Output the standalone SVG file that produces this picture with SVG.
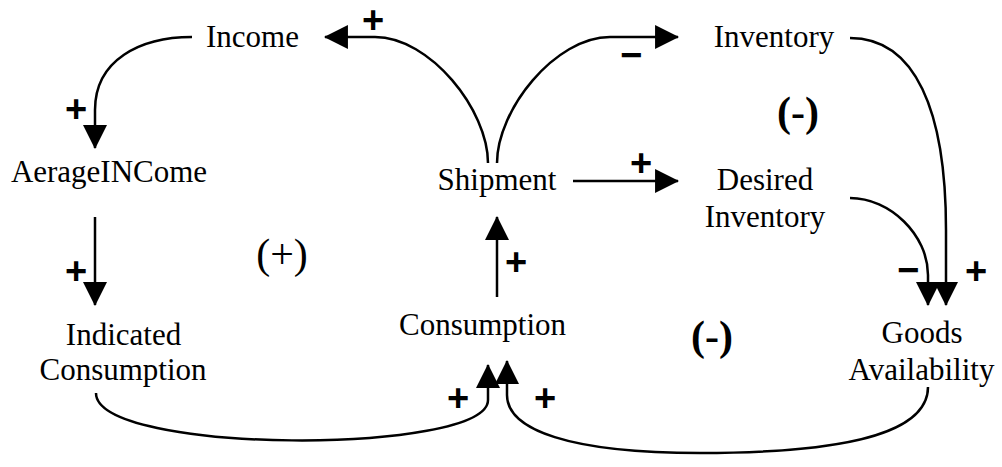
<svg xmlns="http://www.w3.org/2000/svg" width="1002" height="467" viewBox="0 0 1002 467">
<style>
.n{font-family:"Liberation Serif","Times New Roman",serif;font-size:31px;fill:#000;text-anchor:middle}
.s{font-family:"Liberation Sans",Arial,sans-serif;font-weight:bold;font-size:38px;fill:#000;text-anchor:middle}
.lp{font-family:"Liberation Serif","Times New Roman",serif;font-size:42px;fill:#000;text-anchor:middle}
.b{font-weight:bold}
.c{fill:none;stroke:#000;stroke-width:2.5;marker-end:url(#ah)}
</style>
<defs>
<marker id="ah" markerUnits="userSpaceOnUse" markerWidth="24" markerHeight="24" viewBox="0 0 23 23" refX="22" refY="11.5" orient="auto">
<path d="M0,0 L23,11.5 L0,23 Z" fill="#000"/>
</marker>
</defs>
<rect width="1002" height="467" fill="#fff"/>
<g id="connectors">
<path class="c" d="M488 163 C488 110 430 37 375 37 L325 37"/>
<path class="c" d="M497 163 C497 110 555 37 610 37 L678 37"/>
<path class="c" d="M573 181 L678 181"/>
<path class="c" d="M497 297 L497 217"/>
<path class="c" d="M192 37 C140 37 95 60 95 110 L95 148"/>
<path class="c" d="M95 217 L95 305"/>
<path class="c" d="M850 38 C915 38 946 110 946 230 L946 305"/>
<path class="c" d="M850 198 C890 198 928 235 928 275 L928 305"/>
<path class="c" d="M96 393 C96 455 488 455 488 400 L488 365"/>
<path class="c" d="M928 387 C928 440 820 453 700 453 C570 453 507 430 507 395 L507 361"/>
</g>
<g id="polarities">
<text class="s" x="373" y="33">+</text>
<text class="s" x="631" y="68">−</text>
<text class="s" x="641" y="176">+</text>
<text class="s" x="516" y="275">+</text>
<text class="s" x="76" y="122">+</text>
<text class="s" x="76" y="284">+</text>
<text class="s" x="908" y="283">−</text>
<text class="s" x="976" y="284">+</text>
<text class="s" x="458" y="411">+</text>
<text class="s" x="545" y="411">+</text>
</g>
<g id="loops">
<text class="lp b" x="798" y="126">(-)</text>
<text class="lp" x="282" y="268">(+)</text>
<text class="lp b" x="712" y="350">(-)</text>
</g>
<g id="income"><text class="n" x="252.5" y="47">Income</text></g>
<g id="inventory"><text class="n" x="774" y="47">Inventory</text></g>
<g id="averageincome"><text class="n" x="109" y="182">AerageINCome</text></g>
<g id="shipment"><text class="n" x="497" y="190">Shipment</text></g>
<g id="desiredinventory"><text class="n" x="765" y="190">Desired</text><text class="n" x="765" y="227">Inventory</text></g>
<g id="consumption"><text class="n" x="482.5" y="335">Consumption</text></g>
<g id="indicatedconsumption"><text class="n" x="123.5" y="345">Indicated</text><text class="n" x="123" y="380">Consumption</text></g>
<g id="goodsavailability"><text class="n" x="922" y="343">Goods</text><text class="n" x="921.5" y="380">Availability</text></g>
</svg>
